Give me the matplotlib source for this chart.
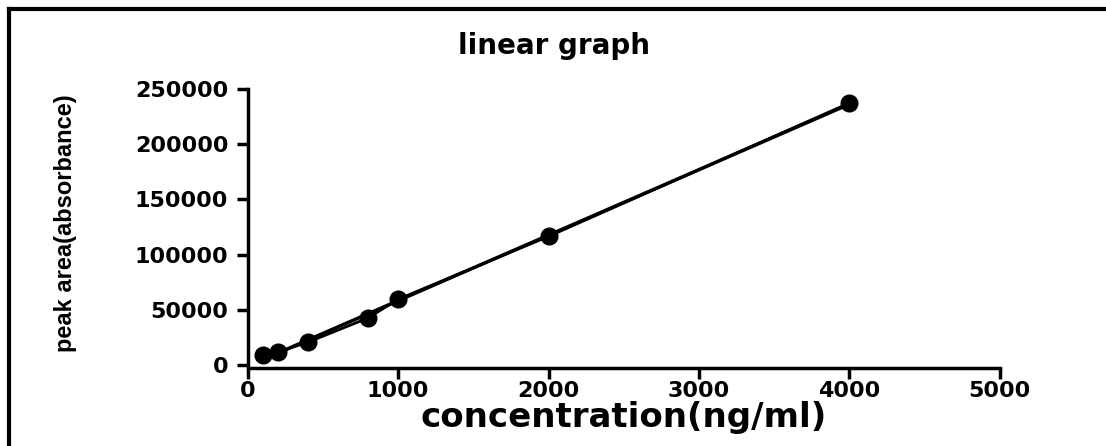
import matplotlib
matplotlib.use("Agg")
import matplotlib.pyplot as plt
from matplotlib.lines import Line2D
import numpy as np

concentration = [100, 200, 400, 800, 1000, 2000, 4000]
peak_area = [8500, 11500, 20500, 42500, 59500, 116500, 237500]
x_ticks = [0, 1000, 2000, 3000, 4000, 5000]
y_ticks = [0, 50000, 100000, 150000, 200000, 250000]

plt.rcParams['font.family'] = ['DejaVu Sans']

fig = plt.figure(figsize=(11.06, 4.46), dpi=100)
ax = fig.add_axes([0.224, 0.182, 0.680, 0.618])

x = np.array(concentration, dtype=float)
y = np.array(peak_area, dtype=float)
slope, intercept = np.polyfit(x, y, 1)
xf = np.array([x.min(), x.max()])
ax.plot(xf, slope * xf + intercept, color='black', lw=2.5, zorder=2)
ax.plot(x, y, color='black', lw=2.0, marker='o', ms=12, zorder=3)

ax.set_xlim(0, 5000)
ax.set_ylim(0, 250000)
for s in ['top', 'right']:
    ax.spines[s].set_visible(False)
for s in ['left', 'bottom']:
    ax.spines[s].set_linewidth(2.5)
ax.spines['bottom'].set_position(('outward', 2))
ax.set_xticks(x_ticks)
ax.set_yticks(y_ticks)
ax.set_xticklabels([str(v) for v in x_ticks])
ax.set_yticklabels([str(v) for v in y_ticks])
ax.tick_params(width=2.5, length=8, labelsize=16)
ax.tick_params(axis='y', pad=6)
ax.tick_params(axis='x', pad=2)
for lab in ax.get_xticklabels() + ax.get_yticklabels():
    lab.set_fontweight('bold')

ax.set_title('linear graph', fontsize=20, fontweight='bold', x=0.407, y=1.0, pad=25)
ax.set_xlabel('concentration(ng/ml)', fontsize=24.5, fontweight='bold', labelpad=0)
ax.set_ylabel('peak area(absorbance)', fontsize=17, fontweight='bold',
              family=['Liberation Sans', 'DejaVu Sans'])
ax.yaxis.set_label_coords(-0.227, 0.514)

fig.add_artist(Line2D([9/1106, 1], [1 - 9/446, 1 - 9/446], transform=fig.transFigure, color='black', lw=3))
fig.add_artist(Line2D([9/1106, 9/1106], [0, 1 - 9/446], transform=fig.transFigure, color='black', lw=3))

fig.savefig('out.png', dpi=100)
